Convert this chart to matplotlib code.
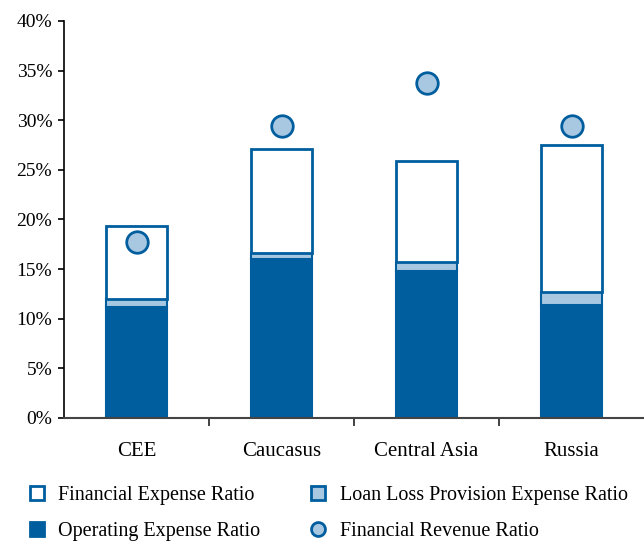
import matplotlib.pyplot as plt
from matplotlib.lines import Line2D
from matplotlib.ticker import FuncFormatter
import numpy as np

regions = ['CEE', 'Caucasus', 'Central Asia', 'Russia']
operating = [11.2, 16.0, 14.8, 11.4]
loan_loss = [0.8, 0.6, 0.9, 1.3]
financial_exp = [7.3, 10.5, 10.2, 14.8]
revenue = [17.7, 29.4, 33.8, 29.4]

dark = '#005E9E'
light = '#A8C8E2'

plt.rcParams['font.family'] = ['Liberation Serif', 'DejaVu Serif']

fig = plt.figure(figsize=(6.44, 5.41), dpi=100)
ax = fig.add_axes([0.0994, 0.2274, 0.9006, 0.7338])

x = np.arange(len(regions))
w = 0.42
op = np.array(operating)
ll = np.array(loan_loss)
fe = np.array(financial_exp)

ax.bar(x, op, w, color=dark, edgecolor=dark, linewidth=1.5, zorder=2)
ax.bar(x, ll, w, bottom=op, color=light, edgecolor=dark, linewidth=1.5, zorder=2)
ax.bar(x, fe, w, bottom=op + ll, color='white', edgecolor=dark, linewidth=2, zorder=2)
ax.scatter(x, revenue, s=240, color=light, edgecolors=dark, linewidths=2, zorder=3)

ax.set_xlim(-0.5, 3.5)
ax.set_ylim(0, 40)
ax.set_yticks(range(0, 41, 5))
ax.yaxis.set_major_formatter(FuncFormatter(lambda v, p: f'{v:.0f}%'))
ax.set_xticks(x)
ax.set_xticklabels(regions)
ax.set_xticks([0.5, 1.5, 2.5], minor=True)
ax.tick_params(axis='x', which='major', length=0, pad=17, labelsize=15)
ax.tick_params(axis='x', which='minor', length=6, width=1.2, color='#222222')
ax.tick_params(axis='y', length=4.5, width=1.2, labelsize=14, pad=4)

for s in ['top', 'right']:
    ax.spines[s].set_visible(False)
ax.spines['left'].set_linewidth(1.2)
ax.spines['bottom'].set_linewidth(1.5)
ax.spines['bottom'].set_color('#444444')
ax.spines['bottom'].set_zorder(4)

handles = [
    Line2D([], [], ls='', marker='s', ms=10, mfc='white', mec=dark, mew=2),
    Line2D([], [], ls='', marker='s', ms=10, mfc=dark, mec=dark, mew=2),
    Line2D([], [], ls='', marker='s', ms=10, mfc=light, mec=dark, mew=2),
    Line2D([], [], ls='', marker='o', ms=10, mfc=light, mec=dark, mew=2),
]
labels = ['Financial Expense Ratio', 'Operating Expense Ratio',
          'Loan Loss Provision Expense Ratio', 'Financial Revenue Ratio']
fig.legend(handles, labels, ncol=2, loc='upper left', bbox_to_anchor=(0.029, 0.117),
           frameon=False, fontsize=14.5, handlelength=1.0, handletextpad=0.55,
           columnspacing=2.4, labelspacing=0.85, borderaxespad=0)

fig.savefig('out.png', dpi=100)
